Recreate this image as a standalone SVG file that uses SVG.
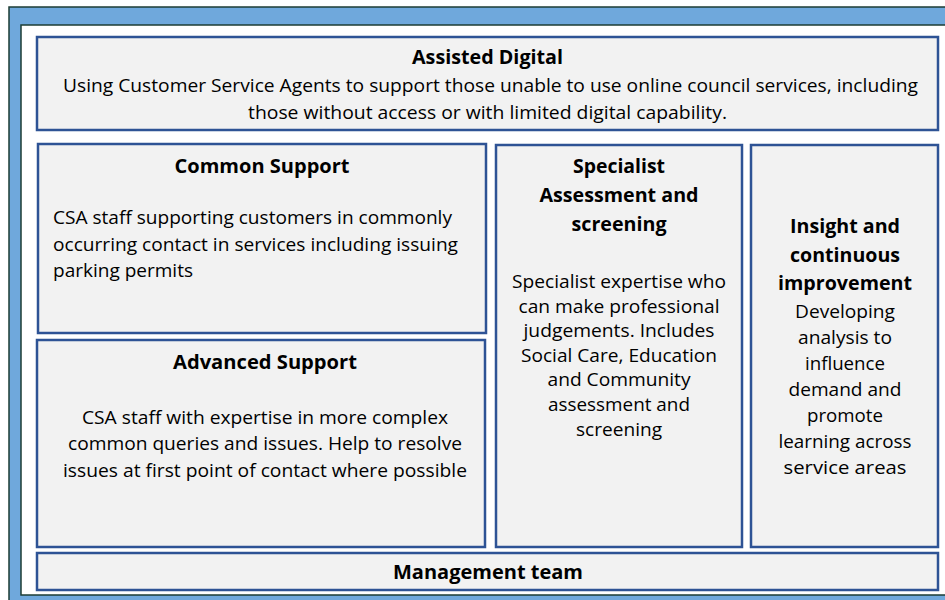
<svg xmlns="http://www.w3.org/2000/svg" width="945" height="600" viewBox="0 0 945 600">
<style>
.box{fill:#F2F2F2;stroke:#2E5395;stroke-width:2.5}
.t{font-family:"Open Sans","Liberation Sans",sans-serif;fill:#000;font-weight:bold;font-size:19px;text-anchor:middle}
.tl{font-family:"Open Sans","Liberation Sans",sans-serif;fill:#000;font-weight:bold;font-size:20px;text-anchor:middle}
.b{font-family:"Open Sans","Liberation Sans",sans-serif;fill:#000;font-size:17.5px;text-anchor:middle}
.bl{font-family:"Open Sans","Liberation Sans",sans-serif;fill:#000;font-size:17.5px;text-anchor:start}
</style>
<rect x="9" y="7" width="960" height="620" fill="#6FA8DC" stroke="#1D3D35" stroke-width="1.5"/>
<rect x="21" y="25" width="940" height="570" fill="#FFFFFF" stroke="#1D3D35" stroke-width="1.5"/>
<g id="assisted-digital">
<rect class="box" x="37" y="37" width="901" height="93"/>
<text class="t" x="487.5" y="64" textLength="151" lengthAdjust="spacingAndGlyphs">Assisted Digital</text>
<text class="b" x="490.5" y="92" textLength="855" lengthAdjust="spacingAndGlyphs">Using Customer Service Agents to support those unable to use online council services, including</text>
<text class="b" x="487.5" y="119" textLength="479" lengthAdjust="spacingAndGlyphs">those without access or with limited digital capability.</text>
</g>
<g id="common-support">
<rect class="box" x="38" y="144" width="448" height="189"/>
<text class="t" x="262" y="173" textLength="175" lengthAdjust="spacingAndGlyphs">Common Support</text>
<text class="bl" x="53" y="224" textLength="399" lengthAdjust="spacingAndGlyphs">CSA staff supporting customers in commonly</text>
<text class="bl" x="53" y="251" textLength="405" lengthAdjust="spacingAndGlyphs">occurring contact in services including issuing</text>
<text class="bl" x="53" y="277" textLength="140" lengthAdjust="spacingAndGlyphs">parking permits</text>
</g>
<g id="advanced-support">
<rect class="box" x="37" y="340" width="448" height="207"/>
<text class="t" x="265" y="369" textLength="184" lengthAdjust="spacingAndGlyphs">Advanced Support</text>
<text class="b" x="265" y="424" textLength="366" lengthAdjust="spacingAndGlyphs">CSA staff with expertise in more complex</text>
<text class="b" x="265" y="450" textLength="394" lengthAdjust="spacingAndGlyphs">common queries and issues. Help to resolve</text>
<text class="b" x="265" y="477" textLength="404" lengthAdjust="spacingAndGlyphs">issues at first point of contact where possible</text>
</g>
<g id="specialist">
<rect class="box" x="496" y="145" width="246" height="402"/>
<text class="tl" x="619" y="173" textLength="92" lengthAdjust="spacingAndGlyphs">Specialist</text>
<text class="tl" x="619" y="202" textLength="159" lengthAdjust="spacingAndGlyphs">Assessment and</text>
<text class="tl" x="619" y="231" textLength="95" lengthAdjust="spacingAndGlyphs">screening</text>
<text class="b" x="619" y="288" textLength="214" lengthAdjust="spacingAndGlyphs">Specialist expertise who</text>
<text class="b" x="619" y="313" textLength="201" lengthAdjust="spacingAndGlyphs">can make professional</text>
<text class="b" x="619" y="337" textLength="191" lengthAdjust="spacingAndGlyphs">judgements. Includes</text>
<text class="b" x="619" y="362" textLength="196" lengthAdjust="spacingAndGlyphs">Social Care, Education</text>
<text class="b" x="619" y="386" textLength="143" lengthAdjust="spacingAndGlyphs">and Community</text>
<text class="b" x="619" y="411" textLength="142" lengthAdjust="spacingAndGlyphs">assessment and</text>
<text class="b" x="619" y="436" textLength="86" lengthAdjust="spacingAndGlyphs">screening</text>
</g>
<g id="insight">
<rect class="box" x="751" y="145" width="187" height="402"/>
<text class="tl" x="845" y="233" textLength="110" lengthAdjust="spacingAndGlyphs">Insight and</text>
<text class="tl" x="845" y="262" textLength="110" lengthAdjust="spacingAndGlyphs">continuous</text>
<text class="tl" x="845" y="290" textLength="134" lengthAdjust="spacingAndGlyphs">improvement</text>
<text class="b" x="845" y="318" textLength="100" lengthAdjust="spacingAndGlyphs">Developing</text>
<text class="b" x="845" y="344" textLength="94" lengthAdjust="spacingAndGlyphs">analysis to</text>
<text class="b" x="845" y="370" textLength="80" lengthAdjust="spacingAndGlyphs">influence</text>
<text class="b" x="845" y="396" textLength="113" lengthAdjust="spacingAndGlyphs">demand and</text>
<text class="b" x="845" y="422" textLength="76" lengthAdjust="spacingAndGlyphs">promote</text>
<text class="b" x="845" y="448" textLength="133" lengthAdjust="spacingAndGlyphs">learning across</text>
<text class="b" x="845" y="474" textLength="123" lengthAdjust="spacingAndGlyphs">service areas</text>
</g>
<g id="management-team">
<rect class="box" x="37" y="553" width="901" height="37"/>
<text class="t" x="488" y="579" textLength="190" lengthAdjust="spacingAndGlyphs">Management team</text>
</g>
<g id="connectors"/>
</svg>
